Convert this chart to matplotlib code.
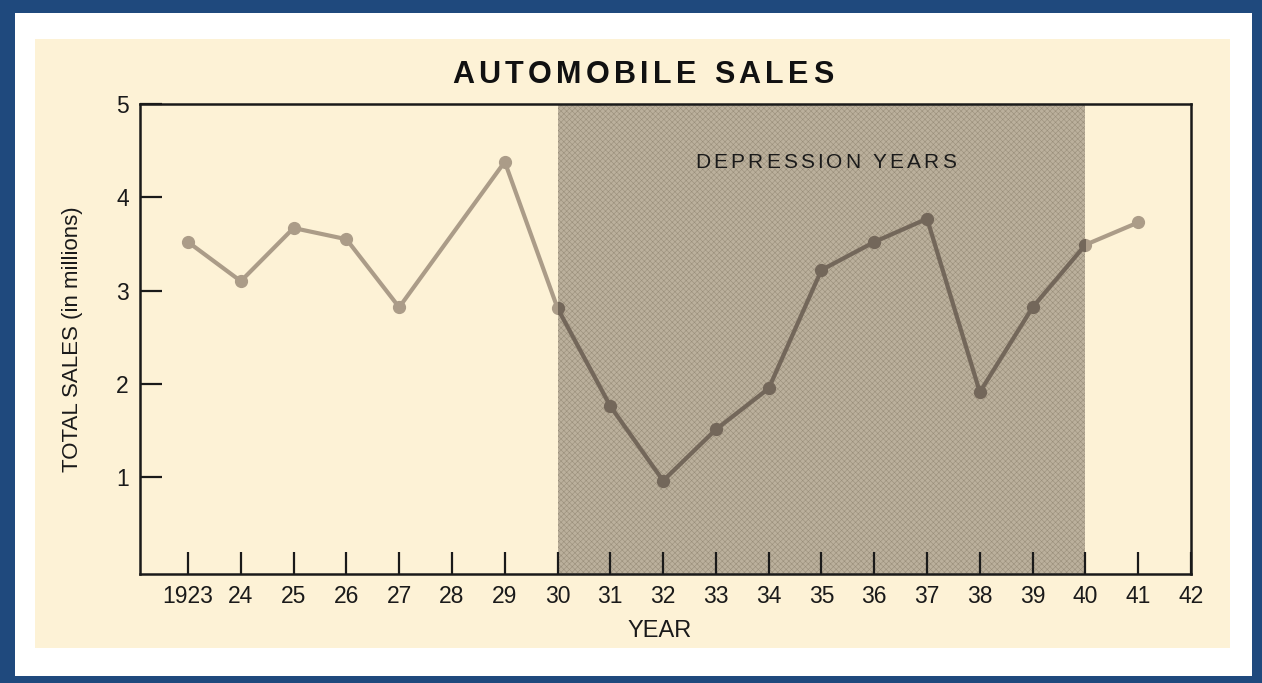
import matplotlib
matplotlib.use("Agg")
import matplotlib.pyplot as plt
from matplotlib.patches import Rectangle

# Data (no marker for 1928 in the original)
years = [1923, 1924, 1925, 1926, 1927, 1929, 1930, 1931, 1932, 1933,
         1934, 1935, 1936, 1937, 1938, 1939, 1940, 1941]
sales = [3.52, 3.10, 3.67, 3.55, 2.82, 4.38, 2.81, 1.76, 0.96, 1.51,
         1.95, 3.22, 3.52, 3.77, 1.91, 2.82, 3.49, 3.73]
tick_years = list(range(1923, 1943))
tick_labels = ["1923"] + [str(y)[2:] for y in tick_years[1:]]
y_ticks = [1, 2, 3, 4, 5]
depression = (1930, 1940)

font = ["Liberation Sans", "DejaVu Sans"]
plt.rcParams["font.family"] = font
plt.rcParams["hatch.linewidth"] = 0.4

W, H = 1262, 683
fig = plt.figure(figsize=(W / 100, H / 100), dpi=100)
fig.patch.set_facecolor("#1f497d")

# white mat and beige scanned page
fig.patches.append(Rectangle((15 / W, 1 - 676 / H), (1252 - 15) / W, (676 - 13) / H,
                             transform=fig.transFigure, facecolor="white",
                             edgecolor="none", zorder=-2))
fig.patches.append(Rectangle((35 / W, 1 - 648 / H), (1230 - 35) / W, (648 - 39) / H,
                             transform=fig.transFigure, facecolor="#fdf2d6",
                             edgecolor="none", zorder=-1))

ax = fig.add_axes([140 / W, 1 - 574 / H, (1191 - 140) / W, (574 - 104) / H])
ax.set_facecolor("none")
ax.set_zorder(2)

span = ax.axvspan(*depression, facecolor="#bbb09c", edgecolor="#9a8f7b",
                  hatch="xxxxxx", linewidth=0, zorder=1)

ax.plot(years, sales, color="#ab9c88", lw=3, marker="o", ms=8.5,
        solid_capstyle="round", zorder=3)
dark, = ax.plot(years, sales, color="#73675a", lw=3, marker="o", ms=8.5,
                solid_capstyle="round", zorder=4)
dark.set_clip_path(span)

ax.set_xlim(1922.09, 1942)
ax.set_ylim(-0.04, 5)
ax.set_xticks(tick_years)
ax.set_xticklabels(tick_labels)
ax.set_yticks(y_ticks)
ax.tick_params(direction="in", length=16, width=1.6, color="#1a1a1a",
               labelsize=16.5, labelcolor="#1a1a1a", pad=8)
for s in ax.spines.values():
    s.set_linewidth(1.8)
    s.set_color("#1a1a1a")
    s.set_zorder(5)

ax.set_ylabel("TOTAL SALES (in millions)", fontsize=16, color="#1a1a1a")
ax.yaxis.set_label_coords(-0.054, 0.5)
ax.set_xlabel("YEAR", fontsize=17, color="#1a1a1a")
ax.xaxis.set_label_coords(0.494, -0.097)


def spaced_text(x, y, s, width_px, **kw):
    # letter-spaced text centred at x (figure fraction), baseline y
    r = fig.canvas.get_renderer()

    def w(txt):
        t = fig.text(0, 0, txt + "|", **kw)
        out = t.get_window_extent(r).width
        t.remove()
        return out

    base = w("")
    natural = w(s) - base
    extra = (width_px - natural) / (len(s) - 1)
    x0 = x * W - width_px / 2
    for i, ch in enumerate(s):
        off = w(s[:i]) - base + i * extra
        fig.text((x0 + off) / W, y, ch, ha="left", va="baseline", **kw)


spaced_text(642.5 / W, 1 - 83 / H, "AUTOMOBILE SALES", 381,
            fontsize=22, fontweight="bold", color="#111111")
spaced_text(825.5 / W, 1 - 168 / H, "DEPRESSION YEARS", 261,
            fontsize=15, color="#1a1a1a")

fig.savefig("out.png", dpi=100, facecolor=fig.get_facecolor())
